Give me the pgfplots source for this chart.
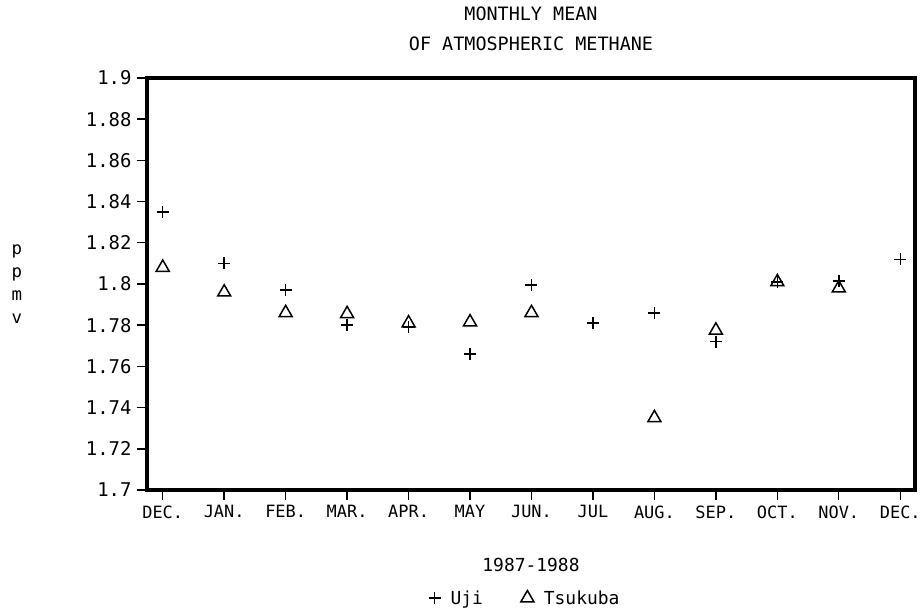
\documentclass[border=0pt]{standalone}
\usepackage{pgfplots}
\pgfplotsset{compat=1.18}
\usepackage{fontspec}
\setmainfont{DejaVu Sans Mono}
\begin{document}
\begin{tikzpicture}
\path[use as bounding box] (-147bp,-120bp) rectangle (773bp,490bp);
\begin{axis}[
  scale only axis,
  clip=false,
  width=768bp, height=412bp,
  xmin=-0.256, xmax=12.24,
  ymin=1.7, ymax=1.9,
  xtick={0,1,2,3,4,5,6,7,8,9,10,11,12},
  xticklabels={DEC.,JAN.,FEB.,MAR.,APR.,MAY,JUN.,JUL,AUG.,SEP.,OCT.,NOV.,DEC.},
  ytick={1.7,1.72,1.74,1.76,1.78,1.8,1.82,1.84,1.86,1.88,1.9},
  yticklabels={1.7,1.72,1.74,1.76,1.78,1.8,1.82,1.84,1.86,1.88,1.9},
  xtick pos=lower, ytick pos=left,
  tick align=outside,
  major tick length=10bp,
  major tick style={line width=1.4bp, black},
  axis line style={line width=3.5bp},
  xticklabel style={font=\fontsize{17}{20}\selectfont, yshift=-2bp},
  yticklabel style={font=\fontsize{19}{20}\selectfont, xshift=-2bp},
  title={MONTHLY MEAN\\OF ATMOSPHERIC METHANE},
  title style={align=center, font=\fontsize{18.5}{30}\selectfont, at={(0.5,1)}, anchor=south, yshift=18bp},
  xlabel={1987-1988},
  xlabel style={font=\fontsize{18}{20}\selectfont, at={(0.5,0)}, anchor=center, yshift=-75bp},
  legend style={at={(0.5,0)}, anchor=center, xshift=-6bp, yshift=-108bp, draw=none, fill=none, legend columns=2, font=\fontsize{18}{20}\selectfont, /tikz/every even column/.append style={column sep=36bp}},
  legend cell align=left,
]
\addplot[only marks, mark=+, mark size=6bp, line width=1.5bp, black] coordinates {
(0,1.835) (1,1.810) (2,1.797) (3,1.780) (4,1.779) (5,1.766) (6,1.7995)
(7,1.781) (8,1.786) (9,1.772) (10,1.801) (11,1.8015) (12,1.812)
};
\addlegendentry{\hspace{8bp}Uji}
\addplot[only marks, mark=triangle, mark size=7.5bp, line width=1.5bp, black] coordinates {
(0,1.808) (1,1.796) (2,1.786) (3,1.7855) (4,1.781) (5,1.7815) (6,1.786)
(8,1.735) (9,1.7775) (10,1.801) (11,1.798)
};
\addlegendentry{\hspace{8bp}Tsukuba}
\node[align=center, font=\fontsize{17.5}{23}\selectfont, anchor=center] at (rel axis cs:0,0.5) [xshift=-130bp] {p\\p\\m\\v};
\end{axis}
\end{tikzpicture}
\end{document}
